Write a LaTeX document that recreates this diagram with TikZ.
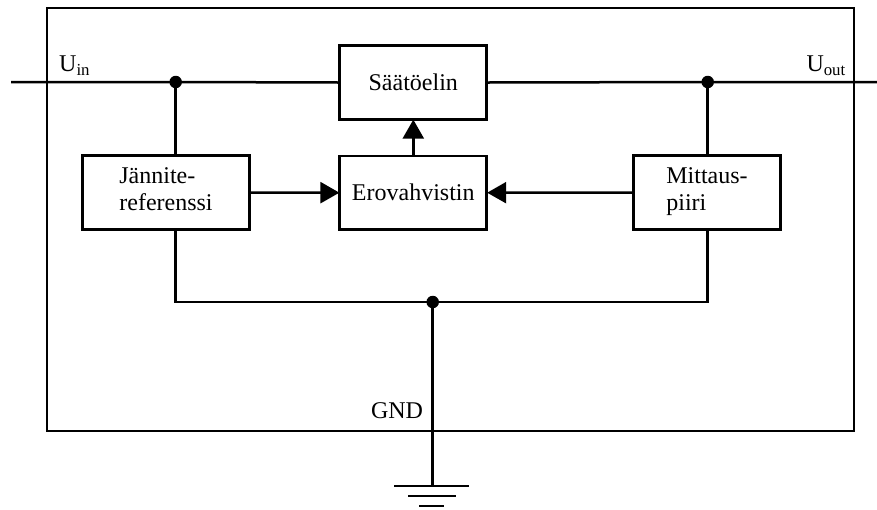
\documentclass[tikz,border=0pt]{standalone}
\usepackage{fontspec}
\setmainfont{Liberation Serif}
\usetikzlibrary{arrows.meta}
\newcommand{\lnstrut}{\rule[-6pt]{0pt}{21pt}}
\begin{document}
\begin{tikzpicture}[x=1pt,y=-1pt,
  wire/.style={line width=2.5pt},
  blk/.style={draw,line width=2.8pt,minimum width=147pt,minimum height=73.5pt,inner sep=0pt,align=left,font=\fontsize{24}{27}\selectfont},
  lbl/.style={inner sep=0pt,font=\fontsize{24}{27}\selectfont},
  arr/.style={wire,-{Triangle[length=19pt,width=21pt]},shorten >=-1pt},
  dot/.style={circle,fill=black,inner sep=0pt,minimum size=12.5pt}]
\useasboundingbox (0,0) rectangle (877,509);
% outer box
\draw[line width=2.8pt] (47,8) rectangle (854,431);
% blocks
\node[blk] (saato) at (413.3,82.5) {Säätöelin};
\node[blk] (ero) at (413.3,192.7) {Erovahvistin};
\node[blk,minimum width=166.5pt] (jan) at (166,192.5) {\lnstrut Jännite-\\\lnstrut referenssi};
\node[blk] (mit) at (707,192.5) {\lnstrut Mittaus-\\\lnstrut piiri};
% junctions
\node[dot] (d1) at (175.7,82) {};
\node[dot] (d2) at (707.7,82) {};
\node[dot] (d3) at (432.7,302) {};
\coordinate (inL) at (11,82);
\coordinate (outR) at (877,82);
\coordinate (bl) at (175.7,302);
\coordinate (br) at (707.7,302);
\coordinate (g0) at (432.7,486);
\coordinate (g1a) at (394.3,486);
\coordinate (g1b) at (469.3,486);
\coordinate (g2a) at (408.3,496);
\coordinate (g2b) at (456,496);
\coordinate (g3a) at (419,506);
\coordinate (g3b) at (443.7,506);
% main line
\draw[wire] (inL) -- (d1.center) -- (saato.west);
\draw[wire] (saato.east) -- (d2.center) -- (outR);
\draw[wire] (d1.center) -- (d1 |- jan.north);
\draw[wire] (d2.center) -- (d2 |- mit.north);
% arrows
\draw[arr] (jan.east) -- (ero.west);
\draw[arr] (mit.west) -- (ero.east);
\draw[arr] (ero.north) -- (saato.south);
% ground wiring
\draw[wire] (d1 |- jan.south) -- (bl) -- (br) -- (d2 |- mit.south);
\draw[wire] (d3.center) -- (g0);
\draw[wire] (g1a) -- (g1b);
\draw[wire] (g2a) -- (g2b);
\draw[wire] (g3a) -- (g3b);
% labels
\node[lbl,anchor=base west] (uin) at (59,71.5) {U\textsubscript{in}};
\node[lbl,anchor=base east] (uout) at (846,71.5) {U\textsubscript{out}};
\node[lbl,anchor=base] (gnd) at (397,418.5) {GND};
\end{tikzpicture}
\end{document}
